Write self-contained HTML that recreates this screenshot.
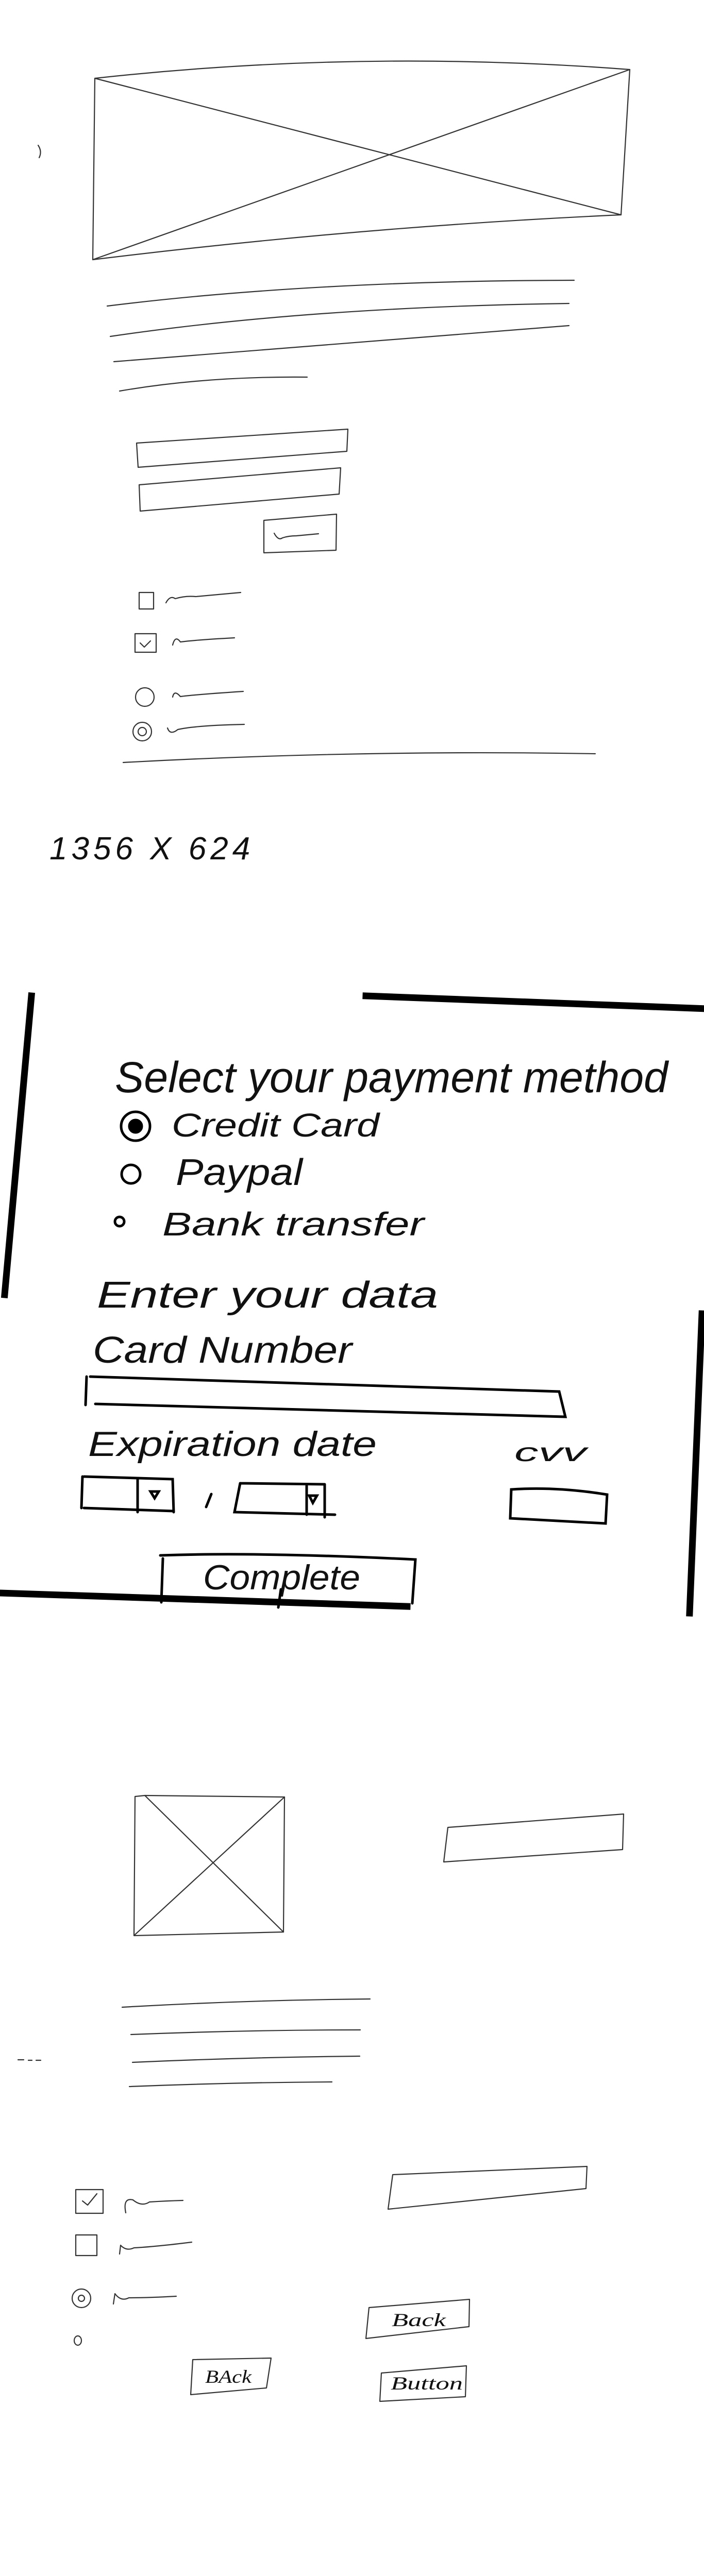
<!DOCTYPE html>
<html><head><meta charset="utf-8"><style>
html,body{margin:0;padding:0;background:#fff;overflow:hidden;width:1366px;height:5062px;position:relative;}
svg{display:block;position:absolute;left:0;top:0;}
text{font-family:"Liberation Sans",sans-serif;fill:#111;}
</style></head><body>
<svg width="1366" height="5062" viewBox="0 0 1366 5062" xmlns="http://www.w3.org/2000/svg" overflow="hidden">
<g fill="none" stroke="#333" stroke-width="2.2" stroke-linecap="round" stroke-linejoin="round">
<path d="M74,282 Q82,294 76,306"/>
<path d="M184,152 Q700,95 1222,135 L1205,417 Q700,440 180,504 Z"/>
<path d="M184,152 L1205,417 M1222,135 L180,504"/>
<path d="M208,594 Q600,545 1114,544"/>
<path d="M214,653 Q600,596 1104,589"/>
<path d="M221,702 Q600,670 1104,632"/>
<path d="M232,759 Q400,730 596,732"/>
<path d="M265,860 L675,833 L673,876 L268,907 Z"/>
<path d="M270,941 L661,908 L658,959 L272,992 Z"/>
<path d="M512,1010 L653,998 L652,1068 L512,1073 Z"/>
<path d="M532,1035 Q540,1050 548,1044 Q560,1040 575,1040 L618,1036"/>
<rect x="270" y="1150" width="28" height="32"/>
<path d="M322,1170 Q330,1155 340,1162 Q360,1156 380,1158 L467,1150"/>
<rect x="262" y="1230" width="41" height="36"/>
<path d="M272,1248 L280,1256 L292,1244"/>
<path d="M335,1252 Q340,1232 350,1246 Q380,1242 455,1238"/>
<circle cx="281" cy="1353" r="18"/>
<path d="M335,1353 Q338,1338 350,1352 Q380,1348 472,1342"/>
<circle cx="276" cy="1420" r="18"/>
<circle cx="276" cy="1420" r="8"/>
<path d="M325,1413 Q330,1428 345,1416 Q380,1408 474,1406"/>
<path d="M239,1480 Q700,1455 1155,1463"/>
</g>
<text x="96" y="1668" font-size="62" font-style="italic" fill="#222" letter-spacing="8">1356 X 624</text>

<g fill="none" stroke="#000" stroke-width="13" stroke-linecap="square">
<path d="M61,1933 L9,2513"/>
<path d="M710,1933 L1372,1958"/>
<path d="M1362,2550 L1338,3131"/>
<path d="M0,3092 L790,3118"/>
</g>
<g font-style="italic">
<text x="223" y="2120" font-size="84" textLength="1073" lengthAdjust="spacingAndGlyphs">Select your payment method</text>
<text x="333" y="2206" font-size="64" textLength="403" lengthAdjust="spacingAndGlyphs">Credit Card</text>
<text x="341" y="2300" font-size="72" textLength="246" lengthAdjust="spacingAndGlyphs">Paypal</text>
<text x="315" y="2398" font-size="64" textLength="508" lengthAdjust="spacingAndGlyphs">Bank transfer</text>
<text x="188" y="2538" font-size="72" textLength="662" lengthAdjust="spacingAndGlyphs">Enter your data</text>
<text x="180" y="2645" font-size="72" textLength="503" lengthAdjust="spacingAndGlyphs">Card Number</text>
<text x="171" y="2826" font-size="68" textLength="560" lengthAdjust="spacingAndGlyphs">Expiration date</text>
<text x="998" y="2836" font-size="50" textLength="140" lengthAdjust="spacingAndGlyphs">cvv</text>
<text x="394" y="3085" font-size="68" textLength="305" lengthAdjust="spacingAndGlyphs">Complete</text>
</g>
<g fill="none" stroke="#000" stroke-width="5" stroke-linecap="round">
<circle cx="263" cy="2186" r="28"/>
<circle cx="263" cy="2186" r="12" fill="#000"/>
<circle cx="254" cy="2279" r="18"/>
<circle cx="232" cy="2371" r="9"/>
<path d="M168,2672 L166,2727 M175,2672 L1085,2701 L1097,2750 L185,2725"/>
<path d="M160,2866 L158,2927 M163,2866 L335,2871 L337,2935 M163,2927 L337,2933 M267,2871 L267,2935"/>
<path d="M292,2895 L308,2895 L300,2908 Z"/>
<path d="M410,2900 L400,2925"/>
<path d="M466,2879 L455,2935 L650,2940 M466,2879 L630,2881 M595,2881 L595,2940 M630,2881 L630,2945"/>
<path d="M600,2903 L615,2903 L607,2917 Z"/>
<path d="M992,2891 L990,2947 L1175,2957 L1178,2901 Q1080,2885 992,2891 Z"/>
<path d="M311,3019 Q500,3012 806,3027 L800,3112 M316,3025 L313,3110 M545,3085 L540,3120"/>
</g>

<g fill="none" stroke="#333" stroke-width="2.2" stroke-linecap="round" stroke-linejoin="round">
<path d="M281,3485 L552,3488 L550,3750 L260,3757 L262,3487 Z"/>
<path d="M281,3485 L550,3750 M552,3488 L262,3755"/>
<path d="M869,3547 L1210,3521 L1208,3590 L861,3614 Z"/>
<path d="M35,3998 L46,3998 M55,3999 L62,3999 M70,3999 L79,3999"/>
<path d="M237,3896 Q480,3882 718,3880"/>
<path d="M254,3949 Q480,3940 699,3940"/>
<path d="M257,4003 Q480,3993 698,3991"/>
<path d="M251,4050 Q450,4042 644,4041"/>
<path d="M762,4221 L1139,4205 L1137,4248 L753,4288 Z"/>
<rect x="147" y="4250" width="53" height="46"/>
<path d="M160,4272 L170,4280 L188,4258"/>
<path d="M244,4295 Q238,4265 258,4270 Q275,4284 290,4274 Q320,4272 355,4271"/>
<rect x="147" y="4338" width="41" height="40"/>
<path d="M232,4375 L234,4358 Q245,4370 260,4363 Q300,4361 372,4352"/>
<circle cx="158" cy="4461" r="18"/>
<circle cx="158" cy="4461" r="6"/>
<path d="M220,4472 L223,4452 Q235,4468 250,4460 Q290,4460 342,4457"/>
<ellipse cx="151" cy="4543" rx="7" ry="9"/>
<path d="M716,4479 L911,4463 L910,4516 L710,4539 Z"/>
<path d="M374,4580 L526,4577 L517,4635 L370,4648 Z"/>
<path d="M740,4606 L905,4592 L903,4652 L737,4661 Z"/>
</g>
<g font-size="36" font-style="italic" fill="#222">
<text x="760" y="4515" textLength="105" lengthAdjust="spacingAndGlyphs" style="font-family:'Liberation Serif',serif">Back</text>
<text x="398" y="4625" textLength="90" lengthAdjust="spacingAndGlyphs" style="font-family:'Liberation Serif',serif">BAck</text>
<text x="758" y="4638" textLength="140" lengthAdjust="spacingAndGlyphs" style="font-family:'Liberation Serif',serif">Button</text>
</g>
</svg>
</body></html>
